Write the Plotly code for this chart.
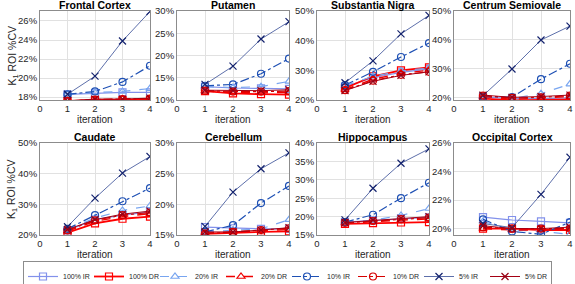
import plotly.graph_objects as go

W, H = 575, 284

iterations = [1, 2, 3, 4]
series_names = ["100% IR", "100% DR", "20% IR", "20% DR", "10% IR", "10% DR", "5% IR", "5% DR"]
regions = ["Frontal Cortex", "Putamen", "Substantia Nigra", "Centrum Semiovale",
           "Caudate", "Cerebellum", "Hippocampus", "Occipital Cortex"]

# values (%CV) per region, rows in the order of series_names
frontal_cortex = [
    [18.3, 18.4, 18.5, 18.5], [17.6, 17.7, 17.7, 17.7],
    [18.3, 18.5, 18.6, 18.9], [17.6, 17.7, 17.8, 17.8],
    [18.3, 18.6, 19.6, 21.3], [17.6, 17.75, 17.8, 17.85],
    [18.3, 20.2, 23.9, 27.0], [17.6, 17.8, 17.8, 17.9],
]
putamen = [
    [13.0, 12.7, 12.6, 12.5], [12.0, 11.5, 11.3, 11.2],
    [13.0, 12.8, 13.0, 14.2], [12.0, 11.7, 11.6, 11.7],
    [13.2, 13.5, 15.9, 19.3], [12.1, 11.9, 11.9, 12.0],
    [13.5, 17.6, 23.7, 27.6], [12.2, 12.1, 12.1, 12.3],
]
substantia_nigra = [
    [24.5, 27.5, 29.3, 30.5], [24.0, 28.0, 30.0, 31.0],
    [24.8, 28.0, 29.8, 30.8], [23.5, 27.0, 29.0, 30.0],
    [25.0, 29.5, 34.5, 39.2], [23.3, 26.5, 28.5, 29.5],
    [25.8, 33.2, 42.3, 48.5], [23.2, 26.3, 28.3, 29.5],
]
centrum_semiovale = [
    [20.3, 19.8, 19.8, 20.0], [19.8, 19.2, 19.3, 19.5],
    [20.5, 19.8, 21.5, 24.8], [20.5, 19.5, 20.0, 20.5],
    [20.5, 20.3, 26.5, 31.8], [20.8, 20.0, 20.2, 20.8],
    [20.8, 30.0, 40.0, 44.8], [21.0, 20.2, 20.5, 21.0],
]
caudate = [
    [21.5, 25.0, 26.5, 27.5], [20.8, 23.8, 25.3, 26.0],
    [21.8, 25.5, 28.0, 29.5], [21.2, 24.5, 26.0, 27.0],
    [22.0, 26.5, 31.0, 35.3], [21.5, 24.8, 26.5, 27.3],
    [22.7, 32.0, 40.2, 45.6], [21.8, 25.0, 26.8, 27.8],
]
cerebellum = [
    [16.3, 16.1, 16.0, 16.0], [15.2, 15.4, 15.5, 15.6],
    [15.5, 15.8, 16.0, 17.5], [15.3, 15.5, 15.7, 15.9],
    [15.5, 16.6, 20.2, 23.0], [15.2, 15.5, 15.8, 16.1],
    [16.4, 22.0, 25.8, 28.4], [15.5, 15.5, 15.8, 16.2],
]
hippocampus = [
    [18.5, 19.0, 19.5, 19.8], [18.0, 18.2, 18.4, 18.5],
    [18.5, 19.0, 20.3, 22.2], [18.2, 18.6, 19.0, 19.4],
    [18.5, 20.5, 25.0, 29.2], [18.3, 18.8, 19.3, 19.7],
    [19.1, 27.7, 34.5, 38.4], [18.4, 19.0, 19.5, 20.0],
]
occipital_cortex = [
    [20.8, 20.6, 20.5, 20.4], [20.0, 20.0, 19.9, 19.9],
    [20.5, 19.9, 19.8, 19.6], [20.0, 19.9, 19.9, 20.0],
    [20.65, 19.8, 19.6, 20.45], [20.1, 20.0, 20.0, 20.0],
    [20.35, 20.07, 22.4, 25.0], [20.2, 20.0, 20.0, 20.1],
]
region_values = [frontal_cortex, putamen, substantia_nigra, centrum_semiovale,
                 caudate, cerebellum, hippocampus, occipital_cortex]

y_ranges = [[17.7, 27.05], [10, 30], [20, 50], [19.3, 50],
            [20, 50], [15, 30], [15, 40], [19.55, 26]]
y_ticks = [[18, 20, 22, 24, 26], [10, 15, 20, 25, 30], [20, 30, 40, 50], [20, 30, 40, 50],
           [20, 30, 40, 50], [15, 20, 25, 30], [15, 20, 25, 30, 35, 40], [20, 22, 24, 26]]
x_ticks = [0, 1, 2, 3, 4]

# styles
styles = [
    dict(color="rgb(130,145,235)", mcolor="rgb(130,145,235)", dash="solid", symbol="square-open", width=1.2),
    dict(color="rgb(255,0,0)", mcolor="rgb(255,0,0)", dash="solid", symbol="square-open", width=1.8),
    dict(color="rgb(120,165,240)", mcolor="rgb(120,165,240)", dash="dash", symbol="triangle-up-open", width=1.2),
    dict(color="rgb(240,0,0)", mcolor="rgb(240,0,0)", dash="dash", symbol="triangle-up-open", width=1.4),
    dict(color="rgb(30,80,180)", mcolor="rgb(30,80,180)", dash="dashdot", symbol="circle-open", width=1.2),
    dict(color="rgb(215,0,0)", mcolor="rgb(215,0,0)", dash="dashdot", symbol="circle-open", width=1.2),
    dict(color="rgb(75,95,160)", mcolor="rgb(20,35,110)", dash="solid", symbol="x-thin-open", width=0.9),
    dict(color="rgb(165,0,20)", mcolor="rgb(150,0,20)", dash="solid", symbol="x-thin-open", width=1.0),
]

col_px = [(40, 150), (177, 289), (317, 429), (454, 570)]
row_px = [(11, 100), (143, 235)]

fig = go.Figure()
font = "Liberation Sans, Arial, sans-serif"
annotations = []

for k, (name, vals) in enumerate(zip(regions, region_values)):
    r, c = divmod(k, 4)
    x0, x1 = col_px[c]
    t, b = row_px[r]
    ax = "" if k == 0 else str(k + 1)
    xd = [x0 / W, x1 / W]
    yd = [1 - b / H, 1 - t / H]
    fig.layout["xaxis" + ax] = dict(
        domain=xd, range=[0, 4], tickvals=x_ticks, ticktext=[str(v) for v in x_ticks],
        anchor="y" + ax,
        showgrid=True, gridcolor="rgb(225,225,225)", gridwidth=1,
        showline=True, linecolor="rgb(140,140,140)", linewidth=1, mirror=True,
        zeroline=False, ticks="", tickfont=dict(size=9.5, family=font, color="#262626"),
        fixedrange=True, automargin=False,
    )
    fig.layout["yaxis" + ax] = dict(
        domain=yd, range=y_ranges[k], tickvals=y_ticks[k],
        ticktext=[f"{v}%" for v in y_ticks[k]],
        anchor="x" + ax, showgrid=True, gridcolor="rgb(225,225,225)", gridwidth=1,
        showline=True, linecolor="rgb(140,140,140)", linewidth=1, mirror=True,
        zeroline=False, ticks="", tickfont=dict(size=9.5, family=font, color="#262626"),
        fixedrange=True, automargin=False,
    )
    for s, (sname, st) in enumerate(zip(series_names, styles)):
        fig.add_trace(go.Scatter(
            x=iterations, y=vals[s], xaxis="x" + ax, yaxis="y" + ax,
            mode="lines+markers", name=sname, legendgroup=sname, showlegend=(k == 0),
            line=dict(color=st["color"], dash=st["dash"], width=st["width"]),
            marker=dict(symbol=st["symbol"], size=7, color=st["mcolor"],
                        line=dict(color=st["mcolor"], width=1.2)),
        ))
    cx = (x0 + x1) / 2 / W
    annotations.append(dict(text="<b>" + name + "</b>", x=cx, y=1 - (t - 6) / H,
                            xref="paper", yref="paper", showarrow=False,
                            font=dict(size=10.5, family=font, color="black"),
                            xanchor="center", yanchor="middle"))
    annotations.append(dict(text="iteration", x=cx, y=1 - (b + 19) / H,
                            xref="paper", yref="paper", showarrow=False,
                            font=dict(size=10, family=font, color="#262626"),
                            xanchor="center", yanchor="middle"))

for t, b in row_px:
    annotations.append(dict(text="K<sub>1</sub> ROI %CV", x=12 / W, y=1 - (t + b) / 2 / H,
                            xref="paper", yref="paper", showarrow=False, textangle=-90,
                            font=dict(size=10.5, family=font, color="#262626"),
                            xanchor="center", yanchor="middle"))

fig.update_layout(
    width=W, height=H, margin=dict(l=0, r=0, t=0, b=0, autoexpand=False),
    paper_bgcolor="white", plot_bgcolor="white",
    annotations=annotations,
    showlegend=True,
    legend=dict(orientation="h", xref="container", yref="container",
                x=0.5, y=1 - 261 / H, xanchor="center", yanchor="top",
                entrywidth=21, entrywidthmode="pixels",
                bordercolor="rgb(140,140,140)", borderwidth=1, bgcolor="white",
                font=dict(size=7, family=font, color="#262626"),
                itemsizing="trace", tracegroupgap=0),
)

fig.write_html("out.html")
